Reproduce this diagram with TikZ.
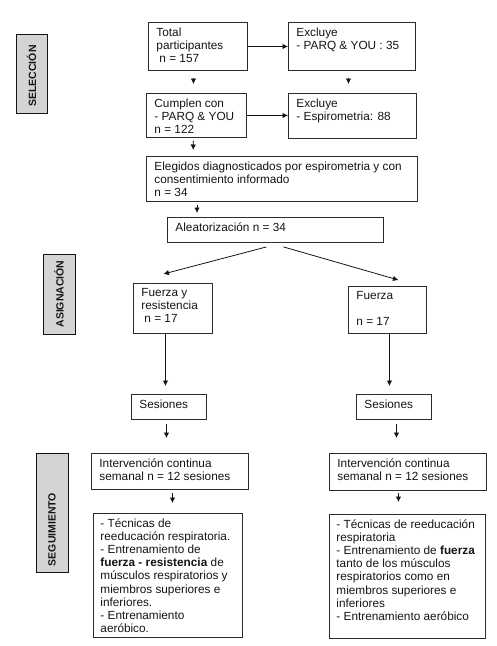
\documentclass[tikz,border=0pt]{standalone}
\usepackage{fontspec}
\setmainfont{Liberation Sans}
\usetikzlibrary{arrows.meta}
\newcommand{\bodyfont}{\fontsize{11.8}{13.2}\selectfont}
\newcommand{\labfont}{\fontsize{10.5}{12}\selectfont\bfseries}
\newcommand{\bx}[3]{\parbox[c][#2pt][t]{#1pt}{\raggedright #3}}
\definecolor{labgray}{RGB}{212,212,212}
\definecolor{ink}{RGB}{20,20,20}
\begin{document}
\begin{tikzpicture}[x=1pt,y=-1pt,
  box/.style={draw=ink!90, line width=0.9pt, inner xsep=8pt, inner ysep=5pt,
    anchor=north west, font=\bodyfont, text=ink},
  lab/.style={draw=ink, line width=0.8pt, fill=labgray, rotate=90,
    inner sep=0pt, font=\labfont, text=ink},
  arr/.style={draw=ink, line width=0.8pt, -{Latex[length=5.5pt,width=5.5pt]}}]
\useasboundingbox (0,0) rectangle (496,646);

% phase labels
\node[lab, minimum width=79pt, minimum height=31pt] (sel) at (31.5,73.5) {SELECCIÓN\hspace*{5pt}};
\node[lab, minimum width=80pt, minimum height=32pt] (asi) at (59,294) {ASIGNACIÓN};
\node[lab, minimum width=119pt, minimum height=32pt] (seg) at (52,512.5) {SEGUIMIENTO\hspace*{34pt}};

% boxes
\node[box] (tot) at (148,22) {\bx{83}{38}{Total\\participantes\\\hspace*{3pt}n = 157}};
\node[box] (ex1) at (288,22) {\bx{111}{38}{Excluye\\- PARQ \& YOU : 35}};
\node[box] (cum) at (146,93) {\bx{84}{34}{Cumplen con\\- PARQ \& YOU\\n = 122}};
\node[box] (ex2) at (288,93) {\bx{112}{35}{Excluye\\- Espirometria: 88}};
\node[box] (ele) at (146,156) {\bx{255}{35}{Elegidos diagnosticados por espirometria y con\\consentimiento informado\\n = 34}};
\node[box] (ale) at (167,217) {\bx{200}{15}{Aleatorización n = 34}};
\node[box] (fyr) at (133,283) {\bx{63}{40}{Fuerza y\\resistencia\\\hspace*{3pt}n = 17}};
\node[box] (fue) at (348,286) {\bx{62}{37}{Fuerza\\\mbox{}\\n = 17}};
\node[box] (ses1) at (131,394) {\bx{59}{15}{Sesiones}};
\node[box] (ses2) at (356,394) {\bx{59}{15}{Sesiones}};
\node[box] (int1) at (91,453) {\bx{141}{26}{Intervención continua\\semanal n = 12 sesiones}};
\node[box] (int2) at (329,453) {\bx{141}{27}{Intervención continua\\semanal n = 12 sesiones}};
\node[box, inner xsep=7pt] (bl) at (93,513) {\bx{135}{114}{- Técnicas de\\reeducación respiratoria.\\- Entrenamiento de\\\textbf{fuerza - resistencia} de\\músculos respiratorios y\\miembros superiores e\\inferiores.\\- Entrenamiento\\aeróbico.}};
\node[box, inner xsep=7pt] (br) at (329,514) {\bx{142}{114}{- Técnicas de reeducación\\respiratoria\\- Entrenamiento de \textbf{fuerza}\\tanto de los músculos\\respiratorios como en\\miembros superiores e\\inferiores\\- Entrenamiento aeróbico}};

% connectors
\draw[arr] (tot.east) -- (tot.east -| ex1.west);
\draw[arr] (cum.east) -- (cum.east -| ex2.west);
\draw[arr, shorten <=7pt, shorten >=9pt] ([xshift=-4.5pt]tot.south) -- ([xshift=-3pt]cum.north);
\draw[arr, shorten <=7pt, shorten >=9pt] ([xshift=-3.5pt]ex1.south) -- ([xshift=-4pt]ex2.north);
\draw[arr, shorten <=3pt, shorten >=6pt] ([xshift=-3pt]cum.south) -- ([xshift=47pt]ele.north west);
\draw[arr, shorten <=3pt, shorten >=4pt] ([xshift=51pt]ele.south west) -- ([xshift=30pt]ale.north west);
\draw[arr] ([xshift=-9pt,yshift=-4pt]ale.south) -- ([xshift=-9.5pt,yshift=9pt]fyr.north);
\draw[arr] ([xshift=8pt,yshift=-4pt]ale.south) -- ([xshift=11pt,yshift=6pt]fue.north);
\draw[arr, shorten >=8pt] ([xshift=-7.5pt]fyr.south) -- ([xshift=-3.5pt]ses1.north);
\draw[arr, shorten >=8pt] ([xshift=2pt]fue.south) -- ([xshift=-4.5pt]ses2.north);
\draw[arr, shorten <=4pt, shorten >=15pt] ([xshift=-2.5pt]ses1.south) -- ([xshift=-3.5pt]int1.north);
\draw[arr, shorten <=4pt, shorten >=15pt] ([xshift=2.5pt]ses2.south) -- ([xshift=-11.5pt]int2.north);
\draw[arr, shorten <=3pt, shorten >=10pt] ([xshift=2.5pt]int1.south) -- ([xshift=4.5pt]bl.north);
\draw[arr, shorten <=2pt, shorten >=12pt] ([xshift=-9.5pt]int2.south) -- ([xshift=-9pt]br.north);
\end{tikzpicture}
\end{document}
